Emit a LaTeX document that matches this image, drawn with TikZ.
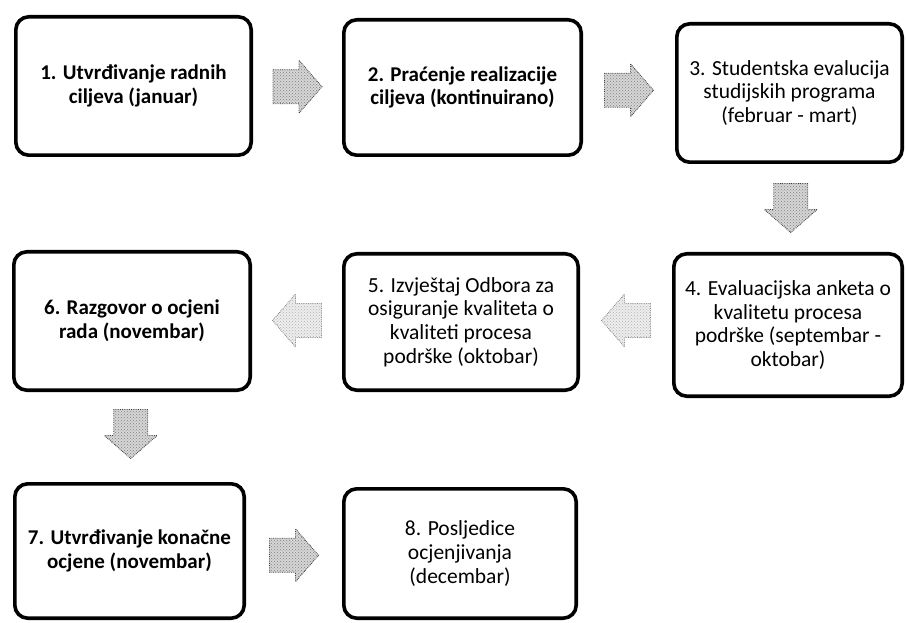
\documentclass[tikz,border=0pt]{standalone}
\usepackage{fontspec}
\setmainfont{Carlito}
\usetikzlibrary{patterns,calc}
\begin{document}
\begin{tikzpicture}[x=1pt,y=-1pt,
  box/.style={draw=black, line width=3.6pt, rounded corners=13pt, inner sep=0pt,
    align=center, font=\fontsize{21.5}{23.8}\selectfont},
  bbox/.style={box, font=\fontsize{21}{23.8}\selectfont\bfseries},
  blockarrow/.style={draw=black!75, densely dotted, line width=0.8pt,
    preaction={fill=black!16}, pattern=crosshatch dots, pattern color=black!50},
  faintarrow/.style={draw=black!45, densely dotted, line width=0.8pt,
    preaction={fill=black!7}, pattern=crosshatch dots, pattern color=black!30},
]
\useasboundingbox (0,0) rectangle (906,623);

\node[bbox, minimum width=235.4pt, minimum height=138.4pt] (b1) at (133.5,86) {1. Utvrđivanje radnih\\ciljeva (januar)};
\node[bbox, minimum width=237.4pt, minimum height=135.4pt] (b2) at (462.5,87.5) {2. Praćenje realizacije\\ciljeva (kontinuirano)};
\node[box, minimum width=225.4pt, minimum height=138.4pt] (b3) at (789.5,93) {3. Studentska evalucija\\studijskih programa\\(februar - mart)};
\node[box, minimum width=228.4pt, minimum height=142.4pt] (b4) at (788,325) {4. Evaluacijska anketa o\\kvalitetu procesa\\podrške (septembar -\\oktobar)};
\node[box, minimum width=234.4pt, minimum height=136.4pt] (b5) at (461,322) {5. Izvještaj Odbora za\\osiguranje kvaliteta o\\kvaliteti procesa\\podrške (oktobar)};
\node[bbox, minimum width=236.4pt, minimum height=138.4pt] (b6) at (132,321) {6. Razgovor o ocjeni\\rada (novembar)};
\node[bbox, minimum width=229.4pt, minimum height=134.4pt] (b7) at (129.5,551) {7. Utvrđivanje konačne\\ocjene (novembar)};
\node[box, minimum width=232.4pt, minimum height=129.4pt] (b8) at (460,553.5) {8. Posljedice\\ocjenjivanja\\(decembar)};

\coordinate (a12) at ($(b1.east)!0.5!(b2.west)$);
\coordinate (a23) at ($(b2.east)!0.5!(b3.west)$);
\coordinate (a34) at ($(b3.south)!0.5!(b4.north)+(2,0)$);
\coordinate (a45) at ($(b4.west)!0.5!(b5.east)+(0,-3)$);
\coordinate (a56) at ($(b5.west)!0.5!(b6.east)+(0,-1)$);
\coordinate (a67) at ($(b6.south)!0.5!(b7.north)+(0,-3)$);
\coordinate (a78) at ($(b7.east)!0.5!(b8.west)+(0,3)$);

\def\blockpath{(-24.5,-17) -- (1.5,-17) -- (1.5,-26.5) -- (24.5,0) -- (1.5,26.5) -- (1.5,17) -- (-24.5,17) -- cycle}
\path[blockarrow, shift={(a12)}] \blockpath;
\path[blockarrow, shift={(a23)}] \blockpath;
\path[blockarrow, shift={(a34)}, rotate=-90] \blockpath;
\path[faintarrow, shift={(a45)}, rotate=180] \blockpath;
\path[faintarrow, shift={(a56)}, rotate=180] \blockpath;
\path[blockarrow, shift={(a67)}, rotate=-90] \blockpath;
\path[blockarrow, shift={(a78)}] \blockpath;
\end{tikzpicture}
\end{document}
